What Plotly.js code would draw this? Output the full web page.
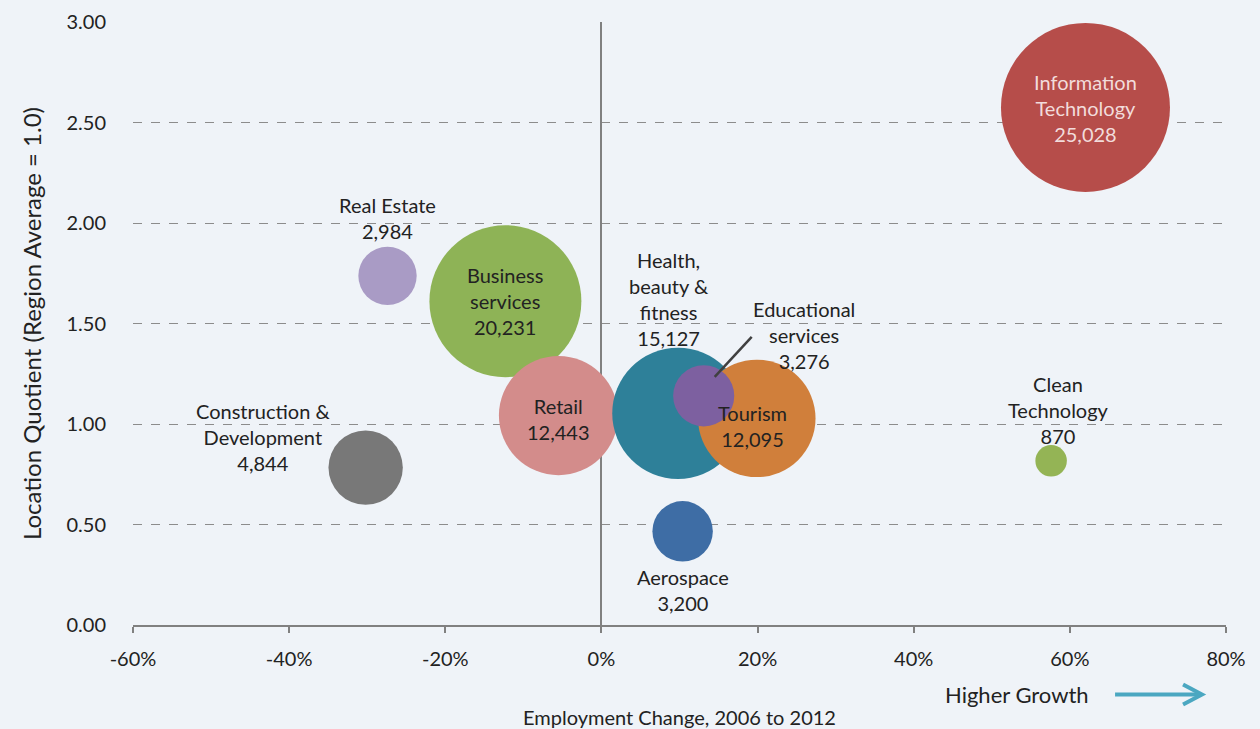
<!DOCTYPE html>
<html>
<head>
<meta charset="utf-8">
<script src="https://cdn.plot.ly/plotly-3.0.1.min.js"></script>
<style>
  html, body { margin: 0; padding: 0; background: #EFF3F8; }
  #chart { width: 1260px; height: 729px; }
</style>
</head>
<body>
<div id="chart"></div>
<script>
// ---- Data ----
const sectors = ["Information<br>Technology", "Real Estate", "Construction &<br>Development", "Clean<br>Technology", "Aerospace",
                 "Business<br>services", "Retail", "Health,<br>beauty &<br>fitness", "Tourism", "Educational<br>services"];
const employmentChange = [62.0, -27.4, -30.2, 57.6, 10.4, -12.3, -5.5, 9.8, 19.9, 13.1];   // % change 2006-2012
const locationQuotient = [2.575, 1.737, 0.783, 0.817, 0.466, 1.611, 1.042, 1.053, 1.028, 1.140];
const employment = [25028, 2984, 4844, 870, 3200, 20231, 12443, 15127, 12095, 3276];
const xTickVals = [-60, -40, -20, 0, 20, 40, 60, 80];
const xTickText = ["-60%", "-40%", "-20%", "0%", "20%", "40%", "60%", "80%"];

// ---- Styles ----
const colors = ["#B64D4A", "#A99BC5", "#787878", "#94B455", "#3E6DA5",
                "#8EB356", "#D38C8B", "#2E8099", "#D07F3B", "#7D60A0"];
const labelDx = [0, 0, -103, 7, 0, 0, 0, -9, -4, 100];
const labelDy = [-1, 58, 31, 51, -59, 0, -3, 114, -8, 61];
const labelColor = ["#F2DCDB", "#222222", "#222222", "#222222", "#222222",
                    "#222222", "#222222", "#222222", "#222222", "#222222"];
const FONT = "Lato, 'Open Sans', sans-serif";
const maxDiameter = 169;
const sizeref = 2 * Math.max(...employment) / (maxDiameter * maxDiameter);

const trace = {
  type: "scatter",
  mode: "markers",
  x: employmentChange,
  y: locationQuotient,
  text: sectors,
  marker: {
    size: employment,
    sizemode: "area",
    sizeref: sizeref,
    color: colors,
    opacity: 1,
    line: { width: 0 }
  },
  hoverinfo: "text",
  showlegend: false
};

const annotations = sectors.map((s, i) => ({
  x: employmentChange[i],
  y: locationQuotient[i],
  xref: "x", yref: "y",
  text: s + "<br>" + employment[i].toLocaleString("en-US"),
  showarrow: false,
  xshift: labelDx[i],
  yshift: labelDy[i],
  xanchor: "center", yanchor: "middle",
  align: "center",
  font: { family: FONT, size: 20, color: labelColor[i] }
}));

annotations.push({
  x: 0.8088, y: -0.1154, xref: "paper", yref: "paper",
  text: "Higher Growth", showarrow: false,
  xanchor: "center", yanchor: "middle",
  font: { family: FONT, size: 22, color: "#222222" }
});

const eduIdx = 9;
const shapes = [
  // leader line for Educational services
  {
    type: "line", xref: "x", yref: "y",
    xsizemode: "pixel", ysizemode: "pixel",
    xanchor: employmentChange[eduIdx], yanchor: locationQuotient[eduIdx],
    x0: 11, y0: 19, x1: 48, y1: 59,
    line: { color: "#404040", width: 2.5 }
  },
  // Higher growth arrow
  {
    type: "line", xref: "paper", yref: "paper",
    x0: 0.8985, y0: -0.1154, x1: 0.9765, y1: -0.1154,
    line: { color: "#4BA7C1", width: 4 }
  },
  {
    type: "path", xref: "paper", yref: "paper",
    path: "M 0.9607 -0.0988 L 0.9780 -0.1154 L 0.9607 -0.1320",
    line: { color: "#4BA7C1", width: 4 }
  }
];

const layout = {
  width: 1260, height: 729,
  paper_bgcolor: "#EFF3F8",
  plot_bgcolor: "#EFF3F8",
  margin: { l: 133, r: 34, t: 22, b: 104, pad: 0 },
  font: { family: FONT, size: 20, color: "#222222" },
  xaxis: {
    range: [-60, 80],
    tickvals: xTickVals,
    ticktext: xTickText,
    showgrid: false,
    zeroline: true, zerolinecolor: "#808080", zerolinewidth: 2,
    showline: true, linecolor: "#808080", linewidth: 2,
    ticks: "outside", ticklen: 6, tickcolor: "#808080", tickwidth: 1.5,
    ticklabelstandoff: 9,
    tickfont: { family: FONT, size: 20, color: "#222222" },
    title: { text: "Employment Change, 2006 to 2012", font: { family: FONT, size: 20, color: "#222222" }, standoff: 46 },
    automargin: false,
    fixedrange: true
  },
  yaxis: {
    range: [0, 3],
    dtick: 0.5,
    tickformat: ".2f",
    showgrid: true, gridcolor: "#8C8C8C", griddash: "dash", gridwidth: 1.2,
    zeroline: false,
    showline: false,
    ticks: "",
    ticklabelstandoff: 26,
    tickfont: { family: FONT, size: 20, color: "#222222" },
    title: { text: "Location Quotient (Region Average = 1.0)", font: { family: FONT, size: 24, color: "#222222" }, standoff: 18 },
    automargin: false,
    fixedrange: true
  },
  annotations: annotations,
  shapes: shapes,
  hovermode: "closest"
};

Plotly.newPlot("chart", [trace], layout, { displayModeBar: false, responsive: false });
</script>
</body>
</html>
